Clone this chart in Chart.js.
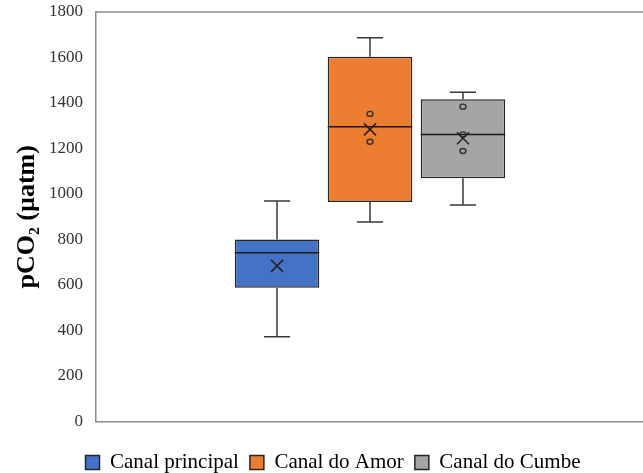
<!DOCTYPE html>
<html>
<head>
<meta charset="utf-8">
<script src="https://cdn.jsdelivr.net/npm/chart.js@4.4.1/dist/chart.umd.min.js"></script>
<style>
  html, body { margin: 0; padding: 0; background: #fff; overflow: hidden; }
  #wrap { width: 660px; height: 473px; }
</style>
</head>
<body>
<div id="wrap"><canvas id="c" width="660" height="473"></canvas></div>
<script>
// ---- data ----
const categories = ['pCO2'];
const seriesNames = ['Canal principal', 'Canal do Amor', 'Canal do Cumbe'];
const seriesColors = ['#4472C4', '#ED7D31', '#A5A5A5'];
const minVals    = [373, 877, 952];
const q1Vals     = [588, 965, 1069];
const medianVals = [742, 1296, 1262];
const q3Vals     = [800, 1603, 1416];
const maxVals    = [969, 1687, 1447];
const meanVals   = [684, 1284, 1245];
const innerPoints = [[], [1352, 1230], [1384, 1262, 1189]];
const yTicks = [0, 200, 400, 600, 800, 1000, 1200, 1400, 1600, 1800];
const yTitle = 'pCO\u2082 (\u00b5atm)';

const datasets = seriesNames.map((name, i) => ({
  label: name,
  data: [[q1Vals[i], q3Vals[i]]],
  backgroundColor: seriesColors[i],
  borderColor: '#262626',
  borderWidth: 1.5,
  borderSkipped: false
}));

const boxPlugin = {
  id: 'boxExtras',
  afterDatasetsDraw(chart) {
    const ctx = chart.ctx;
    const ys = chart.scales.y;
    const ca = chart.chartArea;
    ctx.save();
    // top frame line
    ctx.strokeStyle = '#8c8c8c';
    ctx.lineWidth = 1.5;
    ctx.beginPath();
    ctx.moveTo(ca.left, ca.top);
    ctx.lineTo(chart.width, ca.top);
    ctx.stroke();

    chart.data.datasets.forEach((ds, i) => {
      const bar = chart.getDatasetMeta(i).data[0];
      const cx = bar.x, w = bar.width;
      const capW = w * 0.31;
      const pMax = ys.getPixelForValue(maxVals[i]);
      const pQ3 = ys.getPixelForValue(q3Vals[i]);
      const pQ1 = ys.getPixelForValue(q1Vals[i]);
      const pMin = ys.getPixelForValue(minVals[i]);
      const pMed = ys.getPixelForValue(medianVals[i]);
      const pMean = ys.getPixelForValue(meanVals[i]);
      ctx.strokeStyle = '#3a3a3a';
      ctx.lineWidth = 1.5;
      ctx.beginPath();
      ctx.moveTo(cx, pQ3); ctx.lineTo(cx, pMax);
      ctx.moveTo(cx - capW / 2, pMax); ctx.lineTo(cx + capW / 2, pMax);
      ctx.moveTo(cx, pQ1); ctx.lineTo(cx, pMin);
      ctx.moveTo(cx - capW / 2, pMin); ctx.lineTo(cx + capW / 2, pMin);
      ctx.stroke();
      // median
      ctx.strokeStyle = '#1a1a1a';
      ctx.beginPath();
      ctx.moveTo(cx - w / 2, pMed); ctx.lineTo(cx + w / 2, pMed);
      ctx.stroke();
      // inner points
      ctx.strokeStyle = '#333';
      ctx.lineWidth = 1.4;
      innerPoints[i].forEach(v => {
        const py = ys.getPixelForValue(v);
        ctx.beginPath();
        ctx.ellipse(cx, py, 3, 2.5, 0, 0, Math.PI * 2);
        ctx.stroke();
      });
      // mean X
      const s = 6;
      ctx.strokeStyle = '#222';
      ctx.lineWidth = 1.5;
      ctx.beginPath();
      ctx.moveTo(cx - s, pMean - s); ctx.lineTo(cx + s, pMean + s);
      ctx.moveTo(cx + s, pMean - s); ctx.lineTo(cx - s, pMean + s);
      ctx.stroke();
    });
    ctx.restore();
  }
};

new Chart(document.getElementById('c'), {
  type: 'bar',
  data: { labels: categories, datasets },
  plugins: [boxPlugin],
  options: {
    responsive: false,
    animation: false,
    devicePixelRatio: 1,
    categoryPercentage: 0.509,
    barPercentage: 0.909,
    layout: { padding: { left: 22, right: 16, top: 12, bottom: -10 } },
    plugins: {
      tooltip: { enabled: false },
      legend: {
        position: 'bottom',
        labels: {
          boxWidth: 14,
          boxHeight: 14,
          padding: 11,
          color: '#000',
          font: { family: 'Liberation Serif', size: 21 }
        }
      }
    },
    scales: {
      x: {
        grid: { display: false },
        ticks: { display: false },
        border: { display: true, color: '#8c8c8c', width: 1.5 },
        afterFit(scale) { scale.height = 19.5; }
      },
      y: {
        min: 0,
        max: 1800,
        afterBuildTicks(scale) { scale.ticks = yTicks.map(v => ({ value: v })); },
        grid: { display: false },
        border: { display: true, color: '#8c8c8c', width: 1.5 },
        ticks: {
          color: '#333',
          padding: 5,
          font: { family: 'Liberation Serif', size: 17 },
          callback: v => String(v)
        },
        title: {
          display: true,
          text: yTitle,
          color: '#000',
          padding: { top: -7.5, bottom: 0 },
          font: { family: 'Liberation Serif', size: 26, weight: 'bold', lineHeight: 1 }
        },
        afterFit(scale) { scale.width = 74; scale.paddingTop = 0; scale.paddingBottom = 0; }
      }
    }
  }
});
</script>
</body>
</html>
